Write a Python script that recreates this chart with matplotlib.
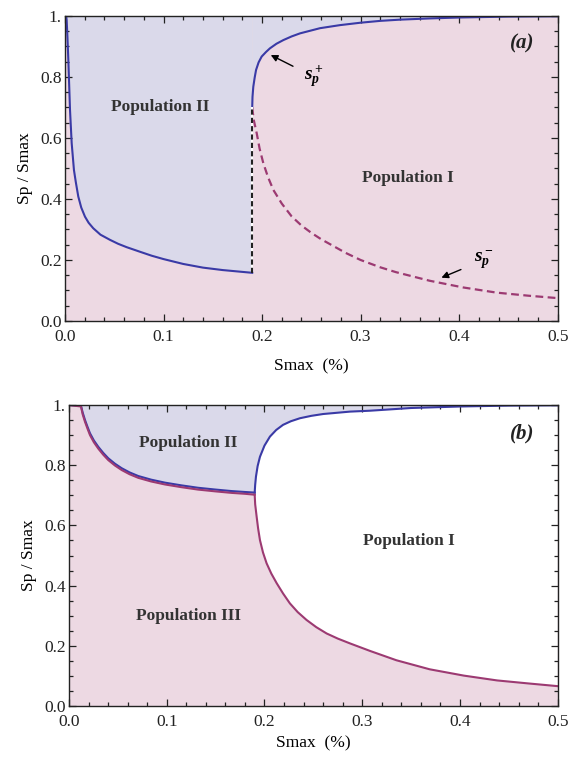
import numpy as np
import matplotlib
matplotlib.use("Agg")
import matplotlib.pyplot as plt
from matplotlib.ticker import MultipleLocator, FuncFormatter

plt.rcParams["font.family"] = ["Liberation Serif", "DejaVu Serif"]
plt.rcParams["mathtext.fontset"] = "custom"
plt.rcParams["mathtext.it"] = "Liberation Serif:italic:bold"
plt.rcParams["mathtext.rm"] = "Liberation Serif:bold"

# panel (a): lower edge of population II, then the two branches s_p+ / s_p-
a_low_x = [0.0012, 0.0017, 0.0025, 0.0034, 0.0051, 0.0068, 0.0091, 0.011, 0.0135,
           0.0165, 0.0203, 0.024, 0.0287, 0.036, 0.0457, 0.054, 0.0626, 0.0761,
           0.088, 0.100, 0.120, 0.140, 0.160, 0.180, 0.190]
a_low_y = [1.0, 0.987, 0.930, 0.856, 0.692, 0.583, 0.495, 0.455, 0.408,
           0.372, 0.342, 0.322, 0.304, 0.283, 0.266, 0.253, 0.242, 0.227,
           0.214, 0.203, 0.187, 0.175, 0.167, 0.161, 0.158]

a_plus_x = [0.190, 0.1903, 0.1911, 0.1925, 0.1939, 0.1965, 0.1996, 0.204, 0.208,
            0.2146, 0.2216, 0.230, 0.2385, 0.2588, 0.279, 0.30, 0.32, 0.34,
            0.37, 0.40, 0.45, 0.50]
a_plus_y = [0.700, 0.735, 0.768, 0.798, 0.823, 0.848, 0.867, 0.882, 0.894,
            0.909, 0.921, 0.933, 0.943, 0.960, 0.970, 0.978, 0.984, 0.988,
            0.992, 0.995, 0.998, 0.999]

a_minus_x = [0.190, 0.1915, 0.1946, 0.1975, 0.2013, 0.206, 0.2114, 0.220, 0.230,
             0.240, 0.250, 0.260, 0.270, 0.285, 0.300, 0.320, 0.336, 0.370,
             0.404, 0.438, 0.470, 0.500]
a_minus_y = [0.700, 0.660, 0.615, 0.565, 0.517, 0.472, 0.430, 0.385, 0.343,
             0.313, 0.289, 0.268, 0.250, 0.223, 0.200, 0.176, 0.160, 0.132,
             0.110, 0.093, 0.083, 0.075]

# panel (b): top edge of population III (blue = II side, purple = III side)
b_low_x = [0.0, 0.0123, 0.014, 0.0164, 0.019, 0.0215, 0.0255, 0.030, 0.035,
           0.0402, 0.047, 0.0539, 0.062, 0.0709, 0.084, 0.0982, 0.115, 0.132,
           0.150, 0.1665, 0.180, 0.190]
b_blue_y = [1.0, 0.997, 0.975, 0.950, 0.927, 0.906, 0.882, 0.861, 0.841,
            0.823, 0.805, 0.790, 0.776, 0.764, 0.752, 0.742, 0.733, 0.725,
            0.719, 0.714, 0.711, 0.709]
b_purple_y = [1.0, 0.995, 0.969, 0.944, 0.921, 0.900, 0.876, 0.855, 0.835,
              0.817, 0.799, 0.784, 0.770, 0.758, 0.746, 0.736, 0.727, 0.719,
              0.713, 0.708, 0.705, 0.702]

b_plus_x = [0.190, 0.1905, 0.1913, 0.193, 0.1954, 0.200, 0.2056, 0.212, 0.219,
            0.227, 0.2363, 0.248, 0.260, 0.2875, 0.308, 0.35, 0.40, 0.45, 0.50]
b_plus_y = [0.709, 0.735, 0.762, 0.797, 0.828, 0.865, 0.895, 0.917, 0.934,
            0.946, 0.956, 0.964, 0.970, 0.978, 0.981, 0.990, 0.995, 0.998, 0.999]

b_minus_x = [0.190, 0.1905, 0.192, 0.1935, 0.1954, 0.1985, 0.2022, 0.207, 0.2125,
             0.219, 0.226, 0.234, 0.243, 0.253, 0.2636, 0.275, 0.2875, 0.308,
             0.335, 0.369, 0.404, 0.438, 0.470, 0.500]
b_minus_y = [0.702, 0.670, 0.629, 0.590, 0.551, 0.510, 0.474, 0.440, 0.408,
             0.374, 0.341, 0.312, 0.286, 0.262, 0.241, 0.224, 0.208, 0.183,
             0.152, 0.122, 0.101, 0.085, 0.075, 0.066]

x_ticks = [0.0, 0.1, 0.2, 0.3, 0.4, 0.5]
y_ticks = [0.0, 0.2, 0.4, 0.6, 0.8, 1.0]

LAV = "#dad9ea"
PINK = "#edd9e3"
BLUE = "#3a3aa6"
PURPLE = "#9c3a72"
TXT = "#333333"


def style_axes(ax, xpad):
    ax.set_xlim(0, 0.5)
    ax.set_ylim(0, 1)
    ax.set_xticks(x_ticks)
    ax.set_yticks(y_ticks)
    ax.xaxis.set_minor_locator(MultipleLocator(0.02))
    ax.yaxis.set_minor_locator(MultipleLocator(0.05))
    ax.xaxis.set_major_formatter(FuncFormatter(lambda v, p: f"{v:.1f}"))
    ax.yaxis.set_major_formatter(FuncFormatter(lambda v, p: "1." if v > 0.99 else f"{v:.1f}"))
    ax.tick_params(which="both", direction="in", top=True, right=True,
                   labelsize=12.5, colors="#222222", width=0.9)
    ax.tick_params(which="major", length=5)
    ax.tick_params(which="minor", length=3)
    ax.tick_params(axis="y", pad=2.5)
    ax.tick_params(axis="x", pad=5.5)
    for s in ax.spines.values():
        s.set_linewidth(1.0)
        s.set_color("#222222")
    ax.set_xlabel("Smax  (%)", fontsize=12.5, labelpad=xpad)
    ax.set_ylabel("Sp / Smax", fontsize=12.5, labelpad=5)


fig = plt.figure(figsize=(5.71, 7.65), dpi=100)
ax1 = fig.add_axes([0.1138, 0.5804, 0.8629, 0.3987])
ax2 = fig.add_axes([0.1208, 0.0771, 0.8559, 0.3935])

# ---- panel (a)
ax1.set_facecolor(PINK)
ax1.fill_between(a_low_x, a_low_y, 1, color=LAV, lw=0)
ax1.fill_between(a_plus_x, a_plus_y, 1, color=LAV, lw=0)
ax1.plot(a_low_x, a_low_y, color=BLUE, lw=1.5)
ax1.plot(a_plus_x, a_plus_y, color=BLUE, lw=1.5)
ax1.plot(a_minus_x, a_minus_y, color=PURPLE, lw=1.6, ls=(0, (3.5, 2)))
ax1.vlines(a_low_x[-1], a_low_y[-1], a_plus_y[0], color="white", lw=1.5)
ax1.vlines(a_low_x[-1], a_low_y[-1], a_plus_y[0], color="#222222", lw=1.5,
           linestyles=(0, (2.5, 1.5)))

ax1.text(0.097, 0.70, "Population II", fontsize=12.4, weight="bold", color=TXT,
         ha="center", va="center")
ax1.text(0.348, 0.469, "Population I", fontsize=12.4, weight="bold", color=TXT,
         ha="center", va="center")
ax1.text(0.4645, 0.91, "(a)", fontsize=15, weight="bold", style="italic",
         color="#222222", ha="center", va="center")
ax1.annotate(r"$s_p^+$", xy=(0.2088, 0.872), xytext=(0.253, 0.80), fontsize=14,
             ha="center", va="center",
             arrowprops=dict(arrowstyle="-|>", color="black", lw=1.0,
                             mutation_scale=10, shrinkA=7, shrinkB=0))
ax1.annotate(r"$s_p^-$", xy=(0.382, 0.142), xytext=(0.425, 0.20), fontsize=14,
             ha="center", va="center",
             arrowprops=dict(arrowstyle="-|>", color="black", lw=1.0,
                             mutation_scale=10, shrinkA=8, shrinkB=0))
style_axes(ax1, 10)

# ---- panel (b)
ax2.set_facecolor(PINK)
ax2.fill_between(b_low_x, b_blue_y, 1, color=LAV, lw=0)
ax2.fill_between(b_plus_x, b_plus_y, 1, color=LAV, lw=0)
ax2.fill(np.concatenate([b_minus_x, b_plus_x[::-1]]),
         np.concatenate([b_minus_y, b_plus_y[::-1]]), color="white", lw=0)
ax2.plot(b_low_x, b_blue_y, color=BLUE, lw=1.5)
ax2.plot(b_low_x, b_purple_y, color=PURPLE, lw=1.5)
ax2.plot(b_plus_x, b_plus_y, color=BLUE, lw=1.5)
ax2.plot(b_minus_x, b_minus_y, color=PURPLE, lw=1.5)

ax2.text(0.122, 0.874, "Population II", fontsize=12.4, weight="bold", color=TXT,
         ha="center", va="center")
ax2.text(0.122, 0.299, "Population III", fontsize=12.4, weight="bold", color=TXT,
         ha="center", va="center")
ax2.text(0.348, 0.548, "Population I", fontsize=12.4, weight="bold", color=TXT,
         ha="center", va="center")
ax2.text(0.464, 0.906, "(b)", fontsize=15, weight="bold", style="italic",
         color="#222222", ha="center", va="center")
style_axes(ax2, 4)

fig.savefig("out.png", dpi=100)
